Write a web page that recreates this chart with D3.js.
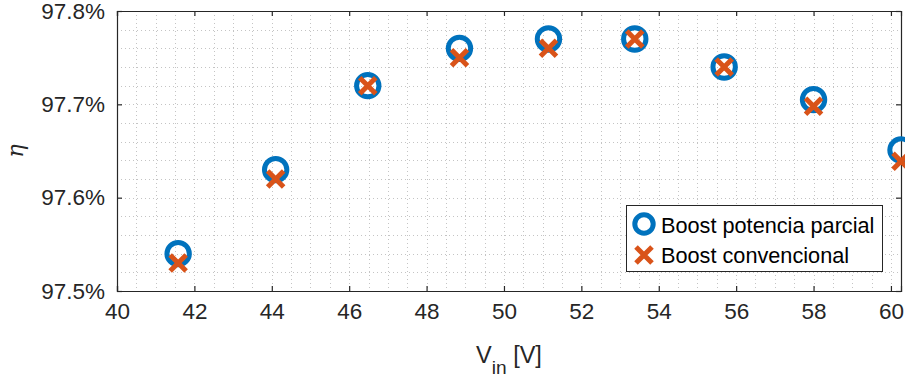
<!DOCTYPE html>
<html>
<head>
<meta charset="utf-8">
<script src="https://cdn.jsdelivr.net/npm/d3@7"></script>
<style>
  html, body { margin: 0; padding: 0; background: #fff; }
  svg { display: block; font-family: "Liberation Sans", Arial, sans-serif; }
</style>
</head>
<body>
<svg id="chart" width="905" height="377"></svg>
<script>
// ---- data ----
const vin = [41.58, 44.1, 46.48, 48.85, 51.15, 53.38, 55.69, 58.0, 60.26];
const etaPartial = [97.540, 97.630, 97.720, 97.760, 97.770, 97.770, 97.740, 97.705, 97.651];
const etaConventional = [97.530, 97.620, 97.720, 97.750, 97.760, 97.770, 97.740, 97.698, 97.639];
const seriesNames = ["Boost potencia parcial", "Boost convencional"];
const xTicks = [40, 42, 44, 46, 48, 50, 52, 54, 56, 58, 60];
const yTicks = [97.5, 97.6, 97.7, 97.8];
const yTickLabels = ["97.5%", "97.6%", "97.7%", "97.8%"];

const blue = "#0072BD", orange = "#D95319", axisColor = "#262626";

const svg = d3.select("#chart");
const L = 117, R = 901, T = 11, B = 291;
const x = d3.scaleLinear().domain([40, 60.26]).range([L, R]);
const y = d3.scaleLinear().domain([97.5, 97.8]).range([B, T]);

// grid (minor + major, dotted)
const gx = d3.range(40, 60.26, 0.5);
const gy = d3.range(0, 16).map(i => 97.5 + i * 0.02);
const grid = svg.append("g");
grid.selectAll(".vg").data(gx).join("line")
  .attr("x1", d => Math.round(x(d)) + 0.5).attr("x2", d => Math.round(x(d)) + 0.5)
  .attr("y1", T).attr("y2", B)
  .attr("stroke", "#c4c4c4").attr("stroke-width", 1).attr("stroke-dasharray", "1,3");
grid.selectAll(".hg").data(gy).join("line")
  .attr("y1", d => Math.round(y(d)) + 0.5).attr("y2", d => Math.round(y(d)) + 0.5)
  .attr("x1", L).attr("x2", R)
  .attr("stroke", "#c4c4c4").attr("stroke-width", 1).attr("stroke-dasharray", "1,3");

// axes
const fs = 22.5;
const xAxis = svg.append("g").attr("transform", `translate(0,${B})`)
  .call(d3.axisBottom(x).tickValues(xTicks).tickSize(-5).tickPadding(12).tickFormat(d3.format("d")));
const xTop = svg.append("g").attr("transform", `translate(0,${T})`)
  .call(d3.axisTop(x).tickValues(xTicks).tickSize(-5).tickFormat(""));
const yAxis = svg.append("g").attr("transform", `translate(${L},0)`)
  .call(d3.axisLeft(y).tickValues(yTicks).tickSize(-5).tickPadding(12).tickFormat((d, i) => yTickLabels[i]));
const yRight = svg.append("g").attr("transform", `translate(${R},0)`)
  .call(d3.axisRight(y).tickValues(yTicks).tickSize(-5).tickFormat(""));
[xAxis, xTop, yAxis, yRight].forEach(g => {
  g.select(".domain").attr("stroke", axisColor).attr("stroke-width", 1.2);
  g.selectAll(".tick line").attr("stroke", axisColor).attr("stroke-width", 1.2);
  g.selectAll(".tick text").attr("fill", axisColor).attr("font-size", fs)
    .attr("font-family", "Liberation Sans, Arial, sans-serif");
});

// axis labels
const xl = svg.append("text").attr("x", (L + R) / 2).attr("y", 363)
  .attr("text-anchor", "middle").attr("fill", axisColor).attr("font-size", fs + 1);
xl.append("tspan").text("V");
xl.append("tspan").attr("dy", 11).attr("font-size", fs * 0.85).text("in");
xl.append("tspan").attr("dy", -11).text(" [V]");

svg.append("text").attr("transform", `translate(23,${(T + B) / 2}) rotate(-90)`)
  .attr("text-anchor", "middle").attr("fill", axisColor).attr("font-size", fs)
  .attr("font-family", "DejaVu Serif, serif").attr("font-style", "italic").text("η");

// markers
const xMark = (g, cx, cy) => {
  const a = 8;
  g.append("path").attr("d", `M${cx - a},${cy - a}L${cx + a},${cy + a}M${cx - a},${cy + a}L${cx + a},${cy - a}`)
    .attr("stroke", orange).attr("stroke-width", 5).attr("fill", "none");
};
svg.append("g").selectAll("circle").data(vin).join("circle")
  .attr("cx", d => x(d)).attr("cy", (d, i) => y(etaPartial[i])).attr("r", 11.2)
  .attr("fill", "none").attr("stroke", blue).attr("stroke-width", 5);
const xg = svg.append("g");
vin.forEach((d, i) => xMark(xg, x(d), y(etaConventional[i])));

// legend
const lg = svg.append("g");
lg.append("rect").attr("x", 626.5).attr("y", 205.5).attr("width", 256).attr("height", 66)
  .attr("fill", "#fff").attr("stroke", axisColor).attr("stroke-width", 1);
lg.append("circle").attr("cx", 644).attr("cy", 224).attr("r", 9.2)
  .attr("fill", "none").attr("stroke", blue).attr("stroke-width", 5);
const lx = svg.append("g");
xMark(lx, 644, 255);
lg.selectAll("text").data(seriesNames).join("text")
  .attr("x", 661).attr("y", (d, i) => 232.5 + i * 30.5)
  .attr("font-size", 21.7).attr("fill", "#000").text(d => d);
</script>
</body>
</html>
